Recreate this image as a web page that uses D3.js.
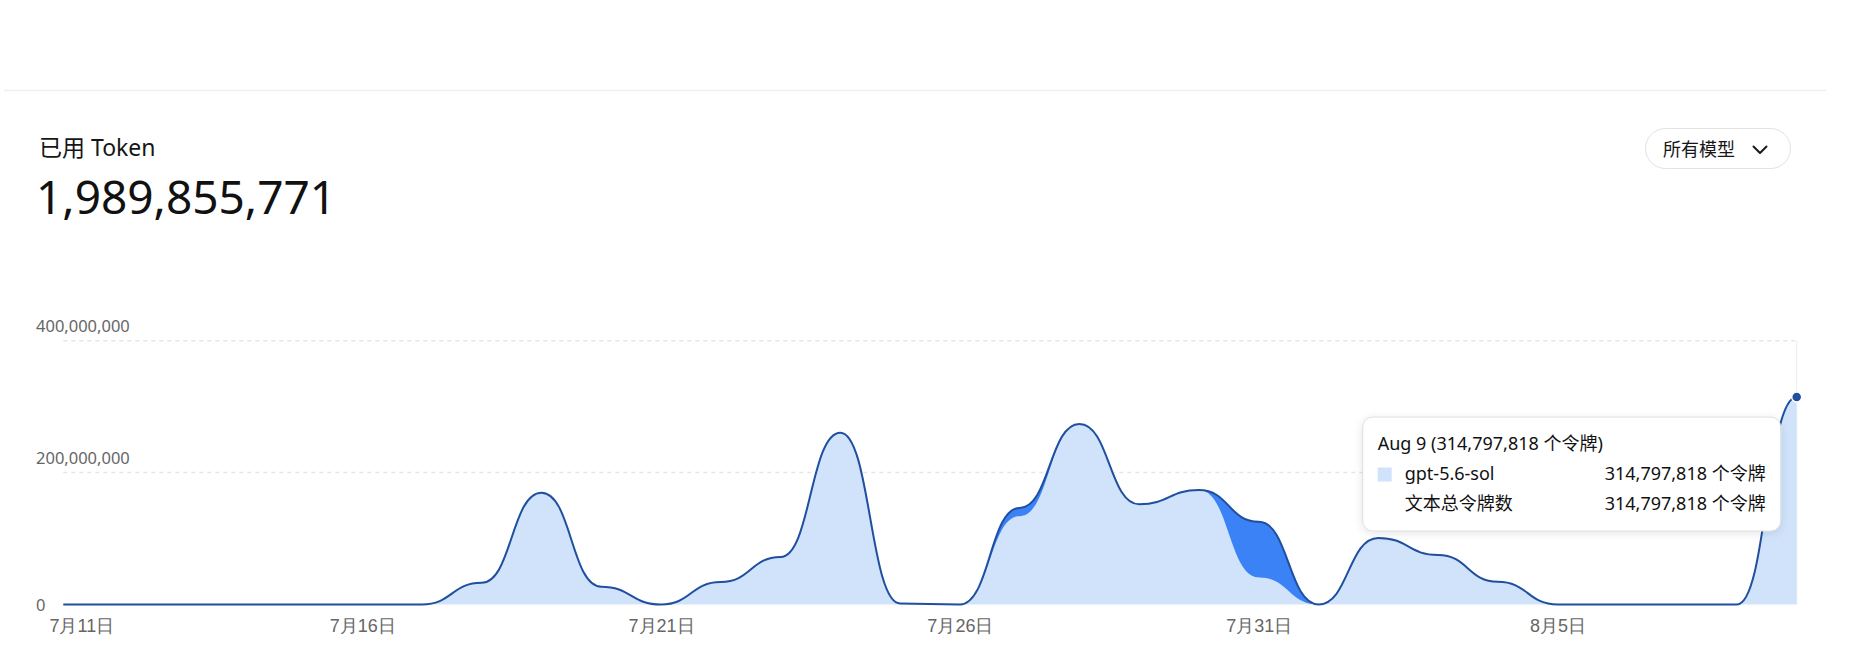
<!DOCTYPE html>
<html><head><meta charset="utf-8">
<script src="https://cdn.jsdelivr.net/npm/d3@7"></script>
<style>
html,body{margin:0;padding:0;background:#fff;}
svg{display:block;font-family:"Noto Sans","Noto Sans CJK SC",sans-serif;}
</style></head><body>
<svg id="c" width="1860" height="669"></svg>
<script>
// ---------- data ----------
const dates = ["2025-07-11","2025-07-12","2025-07-13","2025-07-14","2025-07-15","2025-07-16","2025-07-17",
  "2025-07-18","2025-07-19","2025-07-20","2025-07-21","2025-07-22","2025-07-23","2025-07-24","2025-07-25",
  "2025-07-26","2025-07-27","2025-07-28","2025-07-29","2025-07-30","2025-07-31","2025-08-01","2025-08-02",
  "2025-08-03","2025-08-04","2025-08-05","2025-08-06","2025-08-07","2025-08-08","2025-08-09"];
const solTokens = [0,0,0,0,0,0,0,
  33000000,169500000,27000000,0,34000000,72000000,260500000,1500000,
  0,134000000,273000000,152000000,173500000,41000000,0,101000000,
  75000000,34500000,0,0,0,0,314797818];
const otherTokens = [0,0,0,0,0,0,0,
  0,0,0,0,0,0,0,0,
  0,12500000,700000,0,0,84500000,0,0,
  0,0,0,0,0,0,0];
const seriesKeys = ["gpt-5.6-sol","other"];
const yTicks = [0,200000000,400000000];
const xTickDates = ["2025-07-11","2025-07-16","2025-07-21","2025-07-26","2025-07-31","2025-08-05"];
const xTickLabels = ["7月11日","7月16日","7月21日","7月26日","7月31日","8月5日"];
const titleText = "已用 Token";
const totalText = "1,989,855,771";
const dropdownText = "所有模型";
const unitText = "个令牌";
const totalRowLabel = "文本总令牌数";

// ---------- setup ----------
const svg = d3.select("#c");
const parse = d3.utcParse("%Y-%m-%d");
const rows = dates.map((d,i)=>({date:parse(d),"gpt-5.6-sol":solTokens[i],"other":otherTokens[i]}));
const x = d3.scaleUtc().domain(d3.extent(rows,d=>d.date)).range([63.3,1796.7]);
const y = d3.scaleLinear().domain([0,400000000]).range([604.5,340.7]);
const fmt = d3.format(",");
const curve = d3.curveBumpX;

// header
svg.append("line").attr("x1",4).attr("x2",1826).attr("y1",90.5).attr("y2",90.5)
  .attr("stroke","#efefef").attr("stroke-width",1.5);
svg.append("text").attr("x",39).attr("y",156).attr("font-size",23).attr("fill","#161616").text(titleText);
svg.append("text").attr("x",36).attr("y",214).attr("font-size",46).attr("fill","#111").text(totalText);

// dropdown
const dd = svg.append("g");
dd.append("rect").attr("x",1645.5).attr("y",128.5).attr("width",145).attr("height",40).attr("rx",20)
  .attr("fill","#fff").attr("stroke","#e2e2e2");
dd.append("text").attr("x",1663).attr("y",148.5).attr("dominant-baseline","central")
  .attr("font-size",18).attr("fill","#161616").text(dropdownText);
dd.append("path").attr("d","M1753.5,146.5 L1760,153 L1766.5,146.5").attr("fill","none")
  .attr("stroke","#1a1a1a").attr("stroke-width",2).attr("stroke-linecap","round").attr("stroke-linejoin","round");

// grid
const grid = svg.append("g");
grid.selectAll("line").data(yTicks).join("line")
  .attr("x1",x.range()[0]).attr("x2",x.range()[1])
  .attr("y1",d=>y(d)).attr("y2",d=>y(d))
  .attr("stroke","#e6e6e6").attr("stroke-width",1.5).attr("stroke-dasharray","4 4");

// cursor line
const last = rows[rows.length-1];
svg.append("line").attr("x1",x(last.date)).attr("x2",x(last.date)).attr("y1",y(400000000)).attr("y2",y(0))
  .attr("stroke","#ececec").attr("stroke-width",1);

// stacked areas
const stack = d3.stack().keys(seriesKeys)(rows);
const area = d3.area().curve(curve).x(d=>x(d.data.date)).y0(d=>y(d[0])).y1(d=>y(d[1]));
const fills = ["#d0e3fb","#3b82f6"];
svg.append("g").selectAll("path").data(stack).join("path")
  .attr("d",area).attr("fill",(d,i)=>fills[i]);

// zero dashed line over fill
svg.append("line").attr("x1",x.range()[0]).attr("x2",x.range()[1]).attr("y1",y(0)).attr("y2",y(0))
  .attr("stroke","#f3f6fa").attr("stroke-width",1.2).attr("stroke-dasharray","4 4");

// top line
const topLine = d3.line().curve(curve).x(d=>x(d.data.date)).y(d=>y(d[1]));
svg.append("path").datum(stack[stack.length-1]).attr("d",topLine)
  .attr("fill","none").attr("stroke","#1f4f9e").attr("stroke-width",2);

// y axis labels
const yAxis = svg.append("g").attr("font-size",16.5).attr("fill","#666");
yAxis.selectAll("text").data(yTicks).join("text")
  .attr("x",36).attr("y",d=> d===0 ? y(d)+6.5 : y(d)-9)
  .text(d=>fmt(d));

// x axis
const xg = svg.append("g").attr("transform",`translate(0,${y(0)})`)
  .call(d3.axisBottom(x).tickValues(xTickDates.map(parse)).tickSize(0).tickPadding(0)
    .tickFormat((d,i)=>xTickLabels[i]));
xg.select(".domain").remove();
xg.selectAll("text").attr("font-size",18).attr("fill","#666").attr("font-family",null)
  .attr("dy",null).attr("y",27.5)
  .attr("dx",(d,i)=> i===0 ? 18 : 0);

// active dot
const lastTop = stack[stack.length-1][rows.length-1][1];
svg.append("circle").attr("cx",x(last.date)).attr("cy",y(lastTop)).attr("r",5)
  .attr("fill","#1f4f9e").attr("stroke","#fff").attr("stroke-width",1.5);

// tooltip
const defs = svg.append("defs");
const f = defs.append("filter").attr("id","sh").attr("x","-10%").attr("y","-20%").attr("width","120%").attr("height","150%");
f.append("feDropShadow").attr("dx",0).attr("dy",2).attr("stdDeviation",4).attr("flood-color","#000").attr("flood-opacity",0.1);
const tipW = 418, tipH = 114;
const tipX = x(last.date) - 434, tipY = 417;
const tip = svg.append("g").attr("transform",`translate(${tipX},${tipY})`).attr("font-size",18).attr("fill","#111");
tip.append("rect").attr("width",tipW).attr("height",tipH).attr("rx",10)
  .attr("fill","#fff").attr("stroke","#dedede").attr("filter","url(#sh)");
const total = d3.sum(seriesKeys,k=>last[k]);
tip.append("text").attr("x",15).attr("y",33)
  .text(`${d3.utcFormat("%b %-d")(last.date)} (${fmt(total)} ${unitText})`);
const tipRows = seriesKeys.filter(k=>last[k]>0).map((k)=>({name:k,value:last[k],swatch:fills[seriesKeys.indexOf(k)]}))
  .concat([{name:totalRowLabel,value:total,swatch:null}]);
const tr = tip.selectAll("g.r").data(tipRows).join("g").attr("class","r")
  .attr("transform",(d,i)=>`translate(0,${63+i*30})`);
tr.filter(d=>d.swatch).append("rect").attr("x",15).attr("y",-12.5).attr("width",14).attr("height",14).attr("fill",d=>d.swatch);
tr.append("text").attr("x",42).text(d=>d.name);
tr.append("text").attr("x",403).attr("text-anchor","end").text(d=>`${fmt(d.value)} ${unitText}`);
</script>
</body></html>
